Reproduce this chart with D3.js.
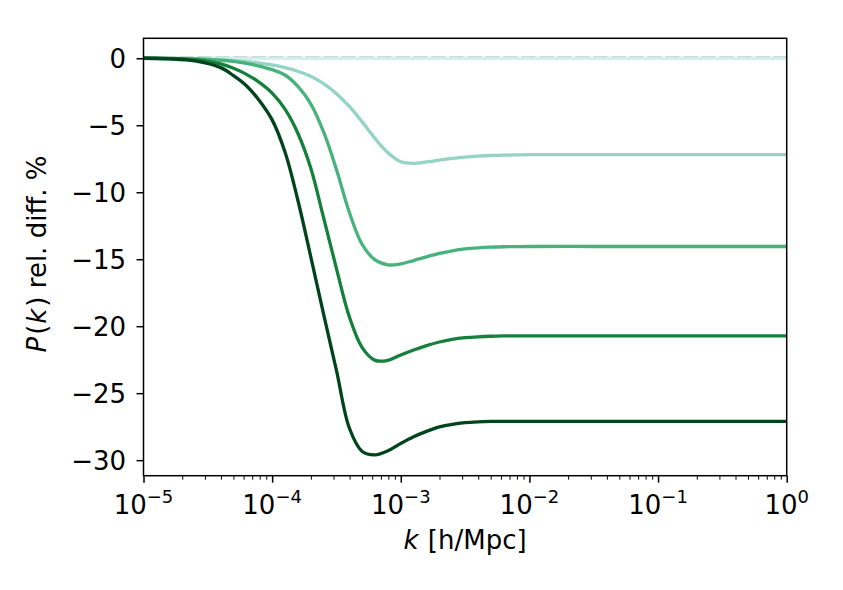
<!DOCTYPE html>
<html>
<head>
<meta charset="utf-8">
<script src="https://cdn.jsdelivr.net/npm/d3@7/dist/d3.min.js"></script>
<style>
  html, body { margin: 0; padding: 0; background: #fff; }
  svg { display: block; font-family: "DejaVu Sans", sans-serif; }
</style>
</head>
<body>
<svg id="chart" width="843" height="590"></svg>
<script>
// ---- data ----
const kExp = [-5, -4.8, -4.6, -4.4, -4.3, -4.2, -4.1, -4.0, -3.9, -3.8, -3.7, -3.6, -3.5, -3.4, -3.3, -3.2, -3.1, -3.0, -2.9, -2.8, -2.7, -2.6, -2.5, -2.4, -2.3, -2.2, -2.1, -2.0, -1.5, -1, -0.5, 0];

const series0 = [0, 0, 0, 0, 0, 0, 0, 0, 0, 0, 0, 0, 0, 0, 0, 0, 0, 0, 0, 0, 0, 0, 0, 0, 0, 0, 0, 0, 0, 0, 0, 0];
const series1 = [0, -0.02, -0.06, -0.12, -0.18, -0.26, -0.36, -0.5, -0.7, -0.97, -1.35, -1.9, -2.65, -3.6, -4.75, -6.0, -7.05, -7.72, -7.84, -7.74, -7.6, -7.47, -7.38, -7.31, -7.26, -7.23, -7.21, -7.2, -7.2, -7.2, -7.2, -7.2];
const series2 = [0, -0.01, -0.05, -0.15, -0.24, -0.38, -0.58, -0.85, -1.25, -2.1, -3.4, -5.5, -8.3, -11.5, -13.9, -15.05, -15.42, -15.35, -15.1, -14.82, -14.57, -14.37, -14.23, -14.15, -14.1, -14.07, -14.06, -14.05, -14.05, -14.05, -14.05, -14.05];
const series3 = [0, -0.02, -0.1, -0.42, -0.75, -1.2, -1.8, -2.6, -3.8, -5.6, -8.2, -11.9, -15.7, -19.3, -21.6, -22.55, -22.55, -22.15, -21.78, -21.45, -21.18, -20.98, -20.86, -20.79, -20.75, -20.73, -20.72, -20.72, -20.72, -20.72, -20.72, -20.72];
const series4 = [0, -0.04, -0.2, -0.7, -1.3, -2.05, -3.15, -4.6, -7.0, -10.6, -14.8, -19.1, -23.3, -27.6, -29.35, -29.6, -29.3, -28.75, -28.25, -27.85, -27.52, -27.32, -27.2, -27.14, -27.11, -27.1, -27.1, -27.1, -27.1, -27.1, -27.1, -27.1];

const seriesList = [series0, series1, series2, series3, series4];
const seriesColors = ["#d6efea", "#93d4c3", "#48b27d", "#15803b", "#00441b"];

const xTickExp = [-5, -4, -3, -2, -1, 0];
const yTicks = [0, -5, -10, -15, -20, -25, -30];
const xLabel = "[h/Mpc]";
const yLabelRest = " rel. diff. %";

// ---- layout ----
const svg = d3.select("#chart");
const L = 143.5, R = 786.7, T = 38.3, B = 475.7;

const x = d3.scaleLog().domain([1e-5, 1]).range([L, R]);
const y = d3.scaleLinear().domain([-31.16, 1.49]).range([B, T]);

// minor ticks
const minor = [];
for (let e = -5; e < 0; e++) for (let m = 2; m <= 9; m++) minor.push(m * Math.pow(10, e));

const gx = svg.append("g").attr("transform", `translate(0,${B})`);
gx.call(d3.axisBottom(x).tickValues(minor).tickSize(4).tickSizeOuter(0).tickFormat(""));
gx.selectAll(".tick line").attr("stroke", "#000").attr("stroke-width", 1);
gx.select(".domain").remove();

const gx2 = svg.append("g").attr("transform", `translate(0,${B})`);
gx2.call(d3.axisBottom(x).tickValues(xTickExp.map(e => Math.pow(10, e))).tickSize(7).tickSizeOuter(0).tickFormat(""));
gx2.selectAll(".tick line").attr("stroke", "#000").attr("stroke-width", 1.5);
gx2.select(".domain").remove();

// x tick labels
xTickExp.forEach(e => {
  const t = svg.append("text")
    .attr("x", x(Math.pow(10, e)))
    .attr("y", 513.5)
    .attr("text-anchor", "middle")
    .attr("font-size", 26)
    .attr("fill", "#000");
  t.append("tspan").text("10");
  t.append("tspan").attr("font-size", 18).attr("dy", -10.5).text(e === 0 ? "0" : "\u2212" + Math.abs(e));
});

const gy = svg.append("g").attr("transform", `translate(${L},0)`);
gy.call(d3.axisLeft(y).tickValues(yTicks).tickSize(7).tickSizeOuter(0).tickFormat(""));
gy.selectAll(".tick line").attr("stroke", "#000").attr("stroke-width", 1.5);
gy.select(".domain").remove();

yTicks.forEach(v => {
  svg.append("text")
    .attr("x", 126)
    .attr("y", y(v))
    .attr("dy", "0.36em")
    .attr("text-anchor", "end")
    .attr("font-size", 26)
    .attr("fill", "#000")
    .text(v < 0 ? "\u2212" + Math.abs(v) : String(v));
});

// clip
svg.append("clipPath").attr("id", "clip")
  .append("rect").attr("x", L).attr("y", T).attr("width", R - L).attr("height", B - T);

const plot = svg.append("g").attr("clip-path", "url(#clip)");

const line = d3.line()
  .x((d, i) => x(Math.pow(10, kExp[i])))
  .y(d => y(d))
  .curve(d3.curveCatmullRom.alpha(0.5));

seriesList.forEach((s, i) => {
  plot.append("path")
    .attr("d", line(s))
    .attr("fill", "none")
    .attr("stroke", seriesColors[i])
    .attr("stroke-width", 3.3)
    .attr("stroke-linejoin", "round")
    .attr("stroke-linecap", "butt");
  if (i === 0) {
    plot.append("line")
      .attr("x1", L).attr("x2", R)
      .attr("y1", y(0) - 1.5).attr("y2", y(0) - 1.5)
      .attr("stroke", "#bcd6d1")
      .attr("stroke-width", 1)
      .attr("stroke-dasharray", "14,4");
  }
});

// frame
svg.append("rect")
  .attr("x", L).attr("y", T).attr("width", R - L).attr("height", B - T)
  .attr("fill", "none").attr("stroke", "#000").attr("stroke-width", 1.5);

// axis labels
const xl = svg.append("text")
  .attr("x", (L + R) / 2)
  .attr("y", 549)
  .attr("text-anchor", "middle")
  .attr("font-size", 26)
  .attr("fill", "#000");
xl.append("tspan").attr("font-style", "italic").text("k");
xl.append("tspan").attr("dx", 1).text(" " + xLabel);

const yl = svg.append("text")
  .attr("transform", `translate(46,254) rotate(-90)`)
  .attr("text-anchor", "middle")
  .attr("font-size", 26)
  .attr("fill", "#000");
yl.append("tspan").attr("font-style", "italic").text("P");
yl.append("tspan").attr("dx", 2).text("(");
yl.append("tspan").attr("font-style", "italic").attr("dx", 1).text("k");
yl.append("tspan").attr("dx", 2).text(")" + yLabelRest);
</script>
</body>
</html>
